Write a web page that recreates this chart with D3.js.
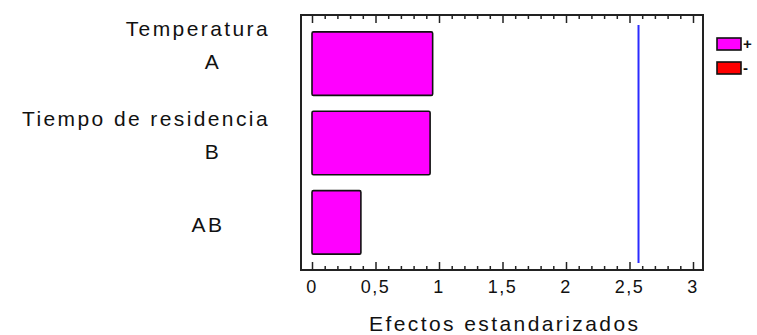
<!DOCTYPE html>
<html>
<head>
<meta charset="utf-8">
<script src="https://cdn.jsdelivr.net/npm/d3@7/dist/d3.min.js"></script>
<style>
  html, body { margin: 0; padding: 0; background: #fff; }
  svg { display: block; }
  text { font-family: "Liberation Sans", Arial, sans-serif; fill: #111; }
</style>
</head>
<body>
<svg id="chart" width="757" height="335"></svg>
<script>
// Standardized effects (Pareto chart)
const factorLines = [["Temperatura", "A"], ["Tiempo de residencia", "B"], ["AB"]];
const effectValues = [0.95, 0.93, 0.385];
const effectSigns = ["+", "+", "+"];
const criticalValue = 2.571;
const tickValues = [0, 0.5, 1, 1.5, 2, 2.5, 3];
const tickLabels = ["0", "0,5", "1", "1,5", "2", "2,5", "3"];
const legendSigns = ["+", "-"];
const legendColors = ["#ff00ff", "#ff0000"];
const axisTitle = "Efectos estandarizados";

const svg = d3.select("#chart");
const frame = { left: 301, right: 703, top: 15, bottom: 270 };

const x = d3.scaleLinear().domain([0, 3]).range([312, 693]);
const y = d3.scaleBand()
  .domain(d3.range(effectValues.length))
  .range([frame.top + 1, frame.bottom])
  .padding(0.2);
// label blocks are spread evenly down the left margin
const yLabel = d3.scaleBand()
  .domain(d3.range(factorLines.length))
  .range([0, frame.bottom]);
const color = d3.scaleOrdinal().domain(legendSigns).range(legendColors);

// bars
svg.append("g").selectAll("rect")
  .data(effectValues)
  .join("rect")
  .attr("x", x(0))
  .attr("y", (d, i) => y(i))
  .attr("width", d => x(d) - x(0))
  .attr("height", y.bandwidth())
  .attr("rx", 1.5)
  .attr("fill", (d, i) => color(effectSigns[i]))
  .attr("stroke", "#111")
  .attr("stroke-width", 1.6);

// critical value line
svg.append("line")
  .attr("x1", x(criticalValue)).attr("x2", x(criticalValue))
  .attr("y1", frame.top + 10).attr("y2", frame.bottom - 7)
  .attr("stroke", "#2b2bff")
  .attr("stroke-width", 2);

// frame
svg.append("rect")
  .attr("x", frame.left).attr("y", frame.top)
  .attr("width", frame.right - frame.left)
  .attr("height", frame.bottom - frame.top)
  .attr("fill", "none")
  .attr("stroke", "#222")
  .attr("stroke-width", 2);

// inward ticks on bottom and top
const minor = d3.range(0, 3.0001, 0.1).map(v => Math.round(v * 10) / 10);
const bottomAxis = d3.axisBottom(x).tickValues(minor).tickSize(-4).tickFormat("");
const topAxis = d3.axisTop(x).tickValues(minor).tickSize(-4).tickFormat("");
[[bottomAxis, frame.bottom], [topAxis, frame.top]].forEach(([ax, ty]) => {
  const g = svg.append("g").attr("transform", `translate(0,${ty})`).call(ax);
  g.select(".domain").remove();
  g.selectAll(".tick line")
    .attr("stroke", "#222")
    .attr("stroke-width", 1.5)
    .attr("y2", d => {
      const major = Math.abs(d * 2 - Math.round(d * 2)) < 1e-6;
      const len = major ? 8 : 4;
      return ty === frame.bottom ? -len : len;
    });
});

// tick labels
svg.append("g").selectAll("text")
  .data(tickValues)
  .join("text")
  .attr("x", d => x(d))
  .attr("y", 293)
  .attr("text-anchor", "middle")
  .attr("font-size", 18)
  .attr("letter-spacing", 1.5)
  .text((d, i) => tickLabels[i]);

// axis title
svg.append("text")
  .attr("x", 369)
  .attr("y", 331)
  .attr("font-size", 21)
  .attr("textLength", 269)
  .attr("lengthAdjust", "spacing")
  .text(axisTitle);

// factor labels
const lineGap = 33;
factorLines.forEach((lines, i) => {
  const cy = yLabel(i) + yLabel.bandwidth() / 2;
  const first = cy - (lines.length - 1) * lineGap / 2 + 7;
  lines.forEach((s, j) => {
    const t = svg.append("text")
      .attr("y", first + j * lineGap)
      .attr("font-size", 21)
      .attr("letter-spacing", 2.4)
      .text(s);
    if (lines.length === 2 && j === 0) {
      t.attr("x", 270).attr("text-anchor", "end");
    } else if (lines.length === 2) {
      t.attr("x", 213).attr("text-anchor", "middle");
    } else {
      t.attr("x", 208).attr("text-anchor", "middle");
    }
  });
});

// legend
const legend = svg.append("g");
legendSigns.forEach((s, i) => {
  legend.append("rect")
    .attr("x", 717).attr("y", 38 + i * 24)
    .attr("width", 24).attr("height", 12)
    .attr("fill", color(s))
    .attr("stroke", "#111")
    .attr("stroke-width", 1.6);
  legend.append("text")
    .attr("x", 743).attr("y", 38 + i * 24 + 11)
    .attr("font-size", 15)
    .attr("font-weight", "bold")
    .text(s);
});
</script>
</body>
</html>
